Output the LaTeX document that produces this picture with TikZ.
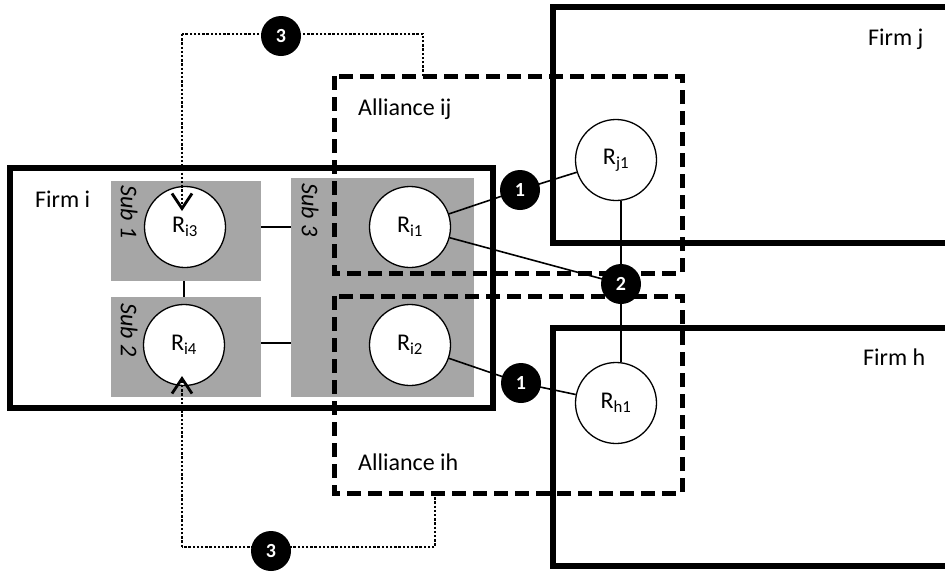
\documentclass[tikz,border=0pt]{standalone}
\usepackage{fontspec}
\setmainfont{Carlito}
\usetikzlibrary{arrows.meta}
\begin{document}
\begin{tikzpicture}[x=1pt,y=-1pt,
  firm/.style={line width=5.5pt},
  alliance/.style={line width=5pt,dash pattern=on 14pt off 7pt},
  subbox/.style={fill=black!35,draw=none},
  res/.style={circle,draw,line width=1.3pt,fill=white,minimum size=81pt,inner sep=0pt,font=\fontsize{24}{28}\selectfont},
  badge/.style={circle,fill=black,minimum size=40pt,inner sep=0pt,text=white,font=\fontsize{20}{22}\selectfont\bfseries},
  link/.style={line width=1.6pt},
  flow/.style={line width=2.5pt,dash pattern=on 2.4pt off 1.8pt},
  lbl/.style={font=\fontsize{24}{28}\selectfont,inner sep=0pt},
  sublbl/.style={font=\fontsize{24}{28}\selectfont\itshape,rotate=-90,inner sep=0pt},
  tipv/.style={-{Straight Barb[length=15pt,width=20pt,line width=2.8pt]}}
]
\useasboundingbox (0,0) rectangle (945,571);
% firms (right edges lie beyond the picture)
\draw[firm] (553,7) rectangle (990,243);
\draw[firm] (553,328) rectangle (990,566);
\draw[firm] (10,168) rectangle (493,408);
% sub boxes
\fill[subbox] (111,181) rectangle (261,281);
\fill[subbox] (111,297) rectangle (261,397);
\fill[subbox] (291,178) rectangle (474,397);
% alliances
\draw[alliance] (334,76) rectangle (682,273);
\draw[alliance] (334,296) rectangle (682,493);
% labels
\node[lbl,anchor=base west] (fi) at (35,207) {Firm i};
\node[lbl,anchor=base west] (fj) at (868,45) {Firm j};
\node[lbl,anchor=base west] (fh) at (863,365) {Firm h};
\node[lbl,anchor=base west] (aij) at (358,115) {Alliance ij};
\node[lbl,anchor=base west] (aih) at (358,470) {Alliance ih};
\node[sublbl] (s1) at (129,212) {Sub 1};
\node[sublbl] (s2) at (129,330) {Sub 2};
\node[sublbl] (s3) at (310,210) {Sub 3};
% resources
\node[res] (Ri3) at (185,227) {R\textsubscript{i3}};
\node[res] (Ri4) at (184,345) {R\textsubscript{i4}};
\node[res] (Ri1) at (410,227) {R\textsubscript{i1}};
\node[res] (Ri2) at (410,345) {R\textsubscript{i2}};
\node[res] (Rj1) at (616,160) {R\textsubscript{j1}};
\node[res] (Rh1) at (616,403) {R\textsubscript{h1}};
% internal links (visible between sub boxes)
\coordinate (a1) at (184,281);
\coordinate (a2) at (184,297);
\draw[link] (a1) -- (a2);
\coordinate (b1) at (261,227);
\coordinate (b2) at (291,227);
\draw[link] (b1) -- (b2);
\coordinate (c1) at (261,343);
\coordinate (c2) at (291,343);
\draw[link] (c1) -- (c2);
% badge positions
\coordinate (p1a) at (520,190);
\coordinate (p1b) at (521,383);
\coordinate (p2) at (621,284);
% alliance links
\draw[link] (Ri1) -- (p1a) -- (Rj1);
\draw[link] (Ri2) -- (p1b) -- (Rh1);
\draw[link] (Ri1) -- (p2);
\draw[link] (Rj1.south -| p2) -- (p2) -- (Rh1.north -| p2);
\node[badge] (n1a) at (p1a) {1};
\node[badge] (n1b) at (p1b) {1};
\node[badge] (n2) at (p2) {2};
% knowledge flows
\coordinate (tl) at (182,34);
\coordinate (tr) at (423,34);
\coordinate (te) at (423,76);
\coordinate (ttip) at (182,211);
\draw[flow] (te) -- (tr) -- (tl);
\draw[flow,tipv] (tl) -- (ttip);
\node[badge] (n3a) at (281,36) {3};
\coordinate (bl) at (182,547);
\coordinate (br) at (435,547);
\coordinate (be) at (435,493);
\coordinate (btip) at (182,376);
\draw[flow] (be) -- (br) -- (bl);
\draw[flow,tipv] (bl) -- (btip);
\node[badge] (n3b) at (271,551) {3};
\end{tikzpicture}
\end{document}
